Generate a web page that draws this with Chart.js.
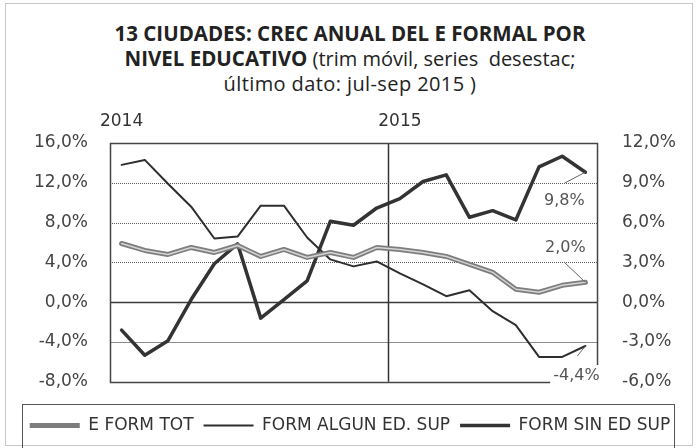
<!DOCTYPE html>
<html lang="es">
<head>
<meta charset="UTF-8">
<title>13 ciudades: crec anual del E formal por nivel educativo</title>
<script src="https://cdn.jsdelivr.net/npm/chart.js"></script>
<style>
  body { margin: 0; background: #fff; }
  .wrap { position: relative; width: 700px; height: 448px; }
  .frame { position: absolute; left: 5px; top: 3px; width: 688px; height: 443px; border: 1px solid #c8c8c8; box-sizing: border-box; }
  .title { position: absolute; left: 0; top: 21px; width: 700px; text-align: center; font-family: 'Open Sans', sans-serif; color: #222; }
  .title div { height: 25px; line-height: 25px; white-space: nowrap; }
  .l1 { font-size: 20.5px; font-weight: bold; }
  .l2 { font-size: 20px; }
  .l2 b { font-size: 20.5px; font-weight: bold; }
  .l3 { font-size: 20px; letter-spacing: 0.4px; }
  canvas { position: absolute; left: 0; top: 0; }
</style>
</head>
<body>
<div class="wrap">
  <div class="frame"></div>
  <div class="title">
    <div class="l1">13 CIUDADES: CREC ANUAL DEL E FORMAL POR</div>
    <div class="l2"><b>NIVEL EDUCATIVO</b> (trim móvil, series&nbsp; desestac;</div>
    <div class="l3">último dato: jul-sep 2015 )</div>
  </div>
  <canvas id="chart" width="700" height="448"></canvas>
</div>
<script>
const meses = ['ene-14', 'feb-14', 'mar-14', 'abr-14', 'may-14', 'jun-14', 'jul-14', 'ago-14', 'sep-14', 'oct-14', 'nov-14', 'dic-14',
               'ene-15', 'feb-15', 'mar-15', 'abr-15', 'may-15', 'jun-15', 'jul-15', 'ago-15', 'sep-15'];

// eje izquierdo
const eFormTot = [5.9, 5.2, 4.8, 5.5, 5.0, 5.7, 4.6, 5.3, 4.5, 5.0, 4.5, 5.5, 5.3, 5.0, 4.6, 3.8, 3.0, 1.3, 1.0, 1.7, 2.0];
const formAlgunEdSup = [13.8, 14.3, 11.9, 9.6, 6.4, 6.6, 9.7, 9.7, 6.5, 4.3, 3.6, 4.1, 2.9, 1.8, 0.6, 1.2, -0.9, -2.3, -5.5, -5.5, -4.4];
// eje derecho
const formSinEdSup = [-2.1, -4.0, -2.9, 0.2, 2.9, 4.4, -1.2, 0.2, 1.6, 6.1, 5.8, 7.1, 7.8, 9.1, 9.6, 6.4, 6.9, 6.2, 10.2, 11.0, 9.8];

const ticksIzq = [-8, -4, 0, 4, 8, 12, 16];
const ticksDer = [-6, -3, 0, 3, 6, 9, 12];

const pct = v => v.toFixed(1).replace('.', ',') + '%';
const axisFont = { family: 'DejaVu Sans', size: 17 };

// rejilla: punteada arriba de cero, sólida en cero y abajo; línea vertical en 2015
const rejilla = {
  id: 'rejilla',
  beforeDatasetsDraw(chart) {
    const { ctx, chartArea: a, scales: { x, y } } = chart;
    ctx.save();
    ticksIzq.forEach(v => {
      if (v === ticksIzq[0] || v === ticksIzq[ticksIzq.length - 1]) return;
      const py = Math.round(y.getPixelForValue(v)) + 0.5;
      ctx.beginPath();
      if (v === 0) { ctx.strokeStyle = '#3a3a3a'; ctx.lineWidth = 1.5; ctx.setLineDash([]); }
      else if (v < 0) { ctx.strokeStyle = '#8c8c8c'; ctx.lineWidth = 1; ctx.setLineDash([]); }
      else { ctx.strokeStyle = '#5a5a5a'; ctx.lineWidth = 1; ctx.setLineDash([1, 1]); }
      ctx.moveTo(a.left, py);
      ctx.lineTo(a.right, py);
      ctx.stroke();
    });
    ctx.setLineDash([]);
    const i = meses.indexOf('ene-15');
    const px = Math.round((x.getPixelForValue(i - 1) + x.getPixelForValue(i)) / 2) + 0.5;
    ctx.strokeStyle = '#333';
    ctx.lineWidth = 1.5;
    ctx.beginPath();
    ctx.moveTo(px, a.top);
    ctx.lineTo(px, a.bottom);
    ctx.stroke();
    ctx.restore();
  }
};

// marco del área y etiquetas del último dato
const etiquetas = {
  id: 'etiquetas',
  afterDatasetsDraw(chart) {
    const { ctx, chartArea: a } = chart;
    ctx.save();
    ctx.strokeStyle = '#444';
    ctx.lineWidth = 1.5;
    ctx.setLineDash([]);
    ctx.strokeRect(Math.round(a.left) + 0.5, Math.round(a.top) + 0.5, Math.round(a.width), Math.round(a.height));

    const marcas = [
      { ds: 3, dx: -21, dy: 29, lx: -21, ly: 11 },
      { ds: 1, dx: -20, dy: -34, lx: -21, ly: -20 },
      { ds: 2, dx: -9, dy: 30, lx: -8, ly: 10 }
    ];
    ctx.font = '16px "DejaVu Sans"';
    ctx.textAlign = 'center';
    ctx.textBaseline = 'middle';
    marcas.forEach(m => {
      const meta = chart.getDatasetMeta(m.ds);
      const pt = meta.data[meta.data.length - 1];
      const data = chart.data.datasets[m.ds].data;
      const txt = pct(data[data.length - 1]);
      const cx = pt.x + m.dx, cy = pt.y + m.dy;
      const w = ctx.measureText(txt).width;
      ctx.fillStyle = '#fff';
      ctx.fillRect(cx - w / 2 - 3, cy - 11, w + 6, 22);
      ctx.strokeStyle = '#666';
      ctx.lineWidth = 1;
      ctx.beginPath();
      ctx.moveTo(pt.x + m.lx, pt.y + m.ly);
      ctx.lineTo(pt.x, pt.y);
      ctx.stroke();
      ctx.fillStyle = '#555';
      ctx.fillText(txt, cx, cy);
    });
    ctx.restore();
  }
};

// recuadro de la leyenda
const cajaLeyenda = {
  id: 'cajaLeyenda',
  afterDraw(chart) {
    const lg = chart.legend;
    if (!lg || !lg.legendHitBoxes.length) return;
    const boxes = lg.legendHitBoxes;
    const left = boxes[0].left - 8;
    const right = boxes[boxes.length - 1].left + boxes[boxes.length - 1].width + 3;
    const cy = boxes[0].top + boxes[0].height / 2;
    const ctx = chart.ctx;
    ctx.save();
    ctx.strokeStyle = '#555';
    ctx.lineWidth = 1;
    ctx.strokeRect(Math.round(left) + 0.5, Math.round(cy - 22) + 0.5, Math.round(right - left), 44);
    ctx.restore();
  }
};

new Chart(document.getElementById('chart'), {
  type: 'line',
  data: {
    labels: meses,
    datasets: [
      { label: '', data: eFormTot, yAxisID: 'y', borderColor: '#d4d4d4', borderWidth: 1.5 },
      { label: 'E FORM TOT', data: eFormTot, yAxisID: 'y', borderColor: '#7d7d7d', borderWidth: 5 },
      { label: 'FORM ALGUN ED. SUP', data: formAlgunEdSup, yAxisID: 'y', borderColor: '#2e2e2e', borderWidth: 2 },
      { label: 'FORM SIN ED SUP', data: formSinEdSup, yAxisID: 'y1', borderColor: '#333', borderWidth: 3.5 }
    ]
  },
  options: {
    responsive: false,
    animation: false,
    devicePixelRatio: 1,
    layout: { padding: { top: 95, bottom: 4, left: 0, right: 0 } },
    elements: { point: { radius: 0 }, line: { tension: 0, borderJoinStyle: 'round', borderCapStyle: 'round' } },
    scales: {
      x: {
        position: 'top',
        offset: true,
        grid: { display: false, drawTicks: false },
        border: { display: false },
        afterFit: s => { s.height = 48; },
        ticks: {
          autoSkip: false,
          maxRotation: 0,
          padding: 11,
          color: '#333',
          font: axisFont,
          callback: (v, i) => meses[i].startsWith('ene') ? '20' + meses[i].slice(4) : ''
        }
      },
      y: {
        position: 'left',
        min: -8,
        max: 16,
        grid: { display: false, drawTicks: false },
        border: { display: false },
        afterFit: s => { s.width = 110; },
        afterBuildTicks: s => { s.ticks = ticksIzq.map(v => ({ value: v })); },
        ticks: { padding: 22, color: '#444', font: axisFont, callback: v => pct(v) }
      },
      y1: {
        position: 'right',
        min: -6,
        max: 12,
        grid: { display: false, drawTicks: false },
        border: { display: false },
        afterFit: s => { s.width = 103; },
        afterBuildTicks: s => { s.ticks = ticksDer.map(v => ({ value: v })); },
        ticks: { padding: 25, color: '#444', font: axisFont, callback: v => pct(v) }
      }
    },
    plugins: {
      title: { display: false },
      tooltip: { enabled: false },
      legend: {
        position: 'bottom',
        title: { display: true, text: '', padding: 12, font: { size: 1 } },
        labels: {
          usePointStyle: true,
          pointStyle: 'line',
          pointStyleWidth: 50,
          padding: 10,
          color: '#333',
          font: { family: 'DejaVu Sans', size: 17 },
          filter: item => item.text !== ''
        }
      }
    }
  },
  plugins: [rejilla, etiquetas, cajaLeyenda]
});
</script>
</body>
</html>
